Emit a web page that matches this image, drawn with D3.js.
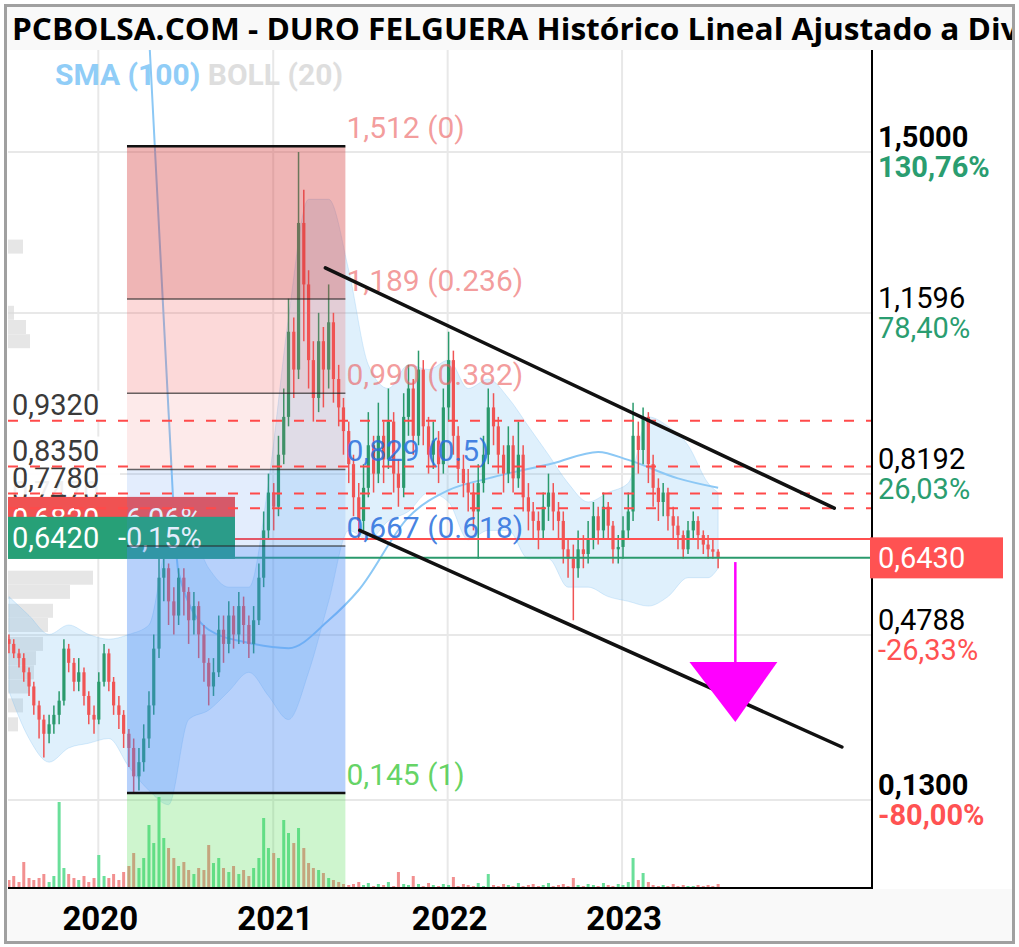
<!DOCTYPE html>
<html><head><meta charset="utf-8">
<script src="https://cdn.jsdelivr.net/npm/d3@7"></script>
<style>
html,body{margin:0;padding:0;background:#fff;}
svg{display:block;}
</style></head><body>
<svg id="c" width="1019" height="947"></svg>
<script>
// ---------- DATA ----------
const closes = [
0.46,0.44,0.43,0.40,0.37,0.33,0.30,0.27,0.29,0.31,
0.34,0.45,0.42,0.38,0.40,0.35,0.31,0.30,0.38,0.44,
0.38,0.33,0.31,0.27,0.24,0.18,0.21,0.26,0.33,0.45,
0.60,0.62,0.55,0.52,0.60,0.57,0.51,0.54,0.48,0.42,
0.37,0.40,0.49,0.46,0.52,0.48,0.54,0.50,0.46,0.51,
0.60,0.70,0.78,0.75,0.86,0.94,1.12,1.04,1.35,1.22,
1.06,0.98,1.10,1.04,1.14,1.02,0.96,0.91,0.84,0.77,
0.72,0.79,0.88,0.82,0.90,0.85,0.93,0.82,0.79,0.94,
1.00,0.90,1.04,0.92,0.86,0.89,0.84,0.96,1.06,0.90,
0.83,0.80,0.78,0.74,0.80,0.86,0.96,0.92,0.86,0.82,
0.88,0.81,0.86,0.77,0.74,0.72,0.70,0.75,0.78,0.74,
0.72,0.66,0.64,0.62,0.66,0.65,0.68,0.73,0.70,0.75,
0.71,0.66,0.665,0.70,0.74,0.90,0.87,0.94,0.84,0.79,
0.76,0.78,0.73,0.71,0.69,0.66,0.70,0.72,0.69,0.67,
0.66,0.655,0.643];
const opens = [
0.47,0.46,0.44,0.43,0.40,0.37,0.33,0.30,0.27,0.29,
0.31,0.34,0.45,0.42,0.38,0.40,0.35,0.31,0.30,0.38,
0.44,0.38,0.33,0.31,0.27,0.24,0.18,0.21,0.26,0.33,
0.45,0.60,0.62,0.55,0.52,0.60,0.57,0.51,0.54,0.48,
0.42,0.37,0.40,0.49,0.46,0.52,0.48,0.54,0.50,0.46,
0.51,0.60,0.70,0.78,0.75,0.86,0.94,1.12,1.04,1.35,
1.22,1.06,0.98,1.10,1.04,1.14,1.02,0.96,0.91,0.84,
0.77,0.72,0.79,0.88,0.82,0.90,0.85,0.93,0.82,0.79,
0.94,1.00,0.90,1.04,0.92,0.86,0.89,0.84,0.96,1.06,
0.90,0.83,0.80,0.78,0.74,0.80,0.86,0.96,0.92,0.86,
0.82,0.88,0.81,0.86,0.77,0.74,0.72,0.70,0.75,0.78,
0.74,0.72,0.66,0.64,0.62,0.66,0.65,0.68,0.73,0.70,
0.75,0.71,0.66,0.665,0.70,0.74,0.90,0.87,0.94,0.84,
0.79,0.76,0.78,0.73,0.71,0.69,0.66,0.70,0.72,0.69,
0.67,0.66,0.655];
const highs = [
0.48,0.47,0.45,0.44,0.41,0.38,0.34,0.31,0.31,0.33,
0.36,0.47,0.46,0.43,0.43,0.41,0.36,0.33,0.40,0.46,
0.45,0.39,0.35,0.32,0.28,0.26,0.24,0.29,0.36,0.48,
0.64,0.64,0.63,0.58,0.62,0.62,0.58,0.57,0.55,0.50,
0.43,0.43,0.52,0.52,0.55,0.54,0.57,0.56,0.52,0.54,
0.63,0.74,0.82,0.80,0.90,1.00,1.19,1.15,1.50,1.42,
1.25,1.10,1.16,1.13,1.22,1.16,1.05,0.98,0.93,0.86,
0.80,0.84,0.95,0.90,0.97,0.93,1.00,0.95,0.85,0.99,
1.05,1.02,1.08,1.06,0.94,0.93,0.91,1.00,1.12,1.08,
0.92,0.86,0.83,0.80,0.84,0.90,1.00,0.99,0.94,0.88,
0.92,0.90,0.93,0.88,0.80,0.76,0.74,0.78,0.82,0.80,
0.76,0.74,0.68,0.67,0.70,0.69,0.72,0.76,0.75,0.78,
0.76,0.72,0.69,0.73,0.78,0.97,0.93,0.96,0.95,0.86,
0.81,0.80,0.79,0.75,0.73,0.70,0.72,0.74,0.73,0.70,
0.69,0.68,0.66];
const lows = [
0.44,0.43,0.41,0.38,0.35,0.31,0.26,0.22,0.25,0.27,
0.29,0.33,0.40,0.36,0.36,0.33,0.29,0.27,0.29,0.37,
0.36,0.31,0.28,0.24,0.20,0.145,0.15,0.19,0.24,0.31,
0.43,0.55,0.50,0.48,0.50,0.52,0.46,0.48,0.43,0.38,
0.33,0.35,0.39,0.42,0.44,0.45,0.46,0.46,0.43,0.44,
0.50,0.58,0.68,0.70,0.73,0.84,0.92,0.98,1.02,1.10,
1.00,0.93,0.95,0.96,1.00,0.97,0.92,0.86,0.80,0.73,
0.68,0.70,0.77,0.78,0.80,0.80,0.83,0.78,0.75,0.77,
0.90,0.86,0.88,0.88,0.82,0.83,0.80,0.82,0.93,0.86,
0.80,0.77,0.74,0.70,0.64,0.78,0.84,0.88,0.82,0.78,
0.80,0.78,0.79,0.74,0.70,0.68,0.66,0.68,0.72,0.70,
0.68,0.63,0.60,0.51,0.60,0.62,0.63,0.66,0.67,0.68,
0.68,0.63,0.63,0.64,0.68,0.72,0.82,0.84,0.80,0.75,
0.72,0.73,0.70,0.68,0.66,0.64,0.65,0.68,0.66,0.65,
0.64,0.64,0.62];
const volumes = [
8,12,6,26,10,8,10,14,6,12,
86,20,14,10,8,12,6,10,33,12,
10,14,8,16,22,35,20,30,63,45,
91,50,40,30,22,26,18,14,20,18,
43,25,30,20,16,22,14,18,12,20,
30,70,40,35,30,68,55,45,60,40,
25,20,18,15,10,8,6,4,3,4,
6,3,5,2,4,3,6,2,16,4,
3,12,4,2,5,3,2,4,3,11,
2,4,3,2,5,2,14,3,2,4,
3,2,5,2,3,4,2,3,5,2,
3,4,2,10,3,2,4,3,2,5,
3,2,4,3,6,30,8,15,6,3,
2,3,2,4,2,3,2,2,3,2,
3,2,4];
const bollIdx   = [0,4,8,12,16,20,24,28,32,36,40,44,48,52,56,60,64,68,72,76,80,84,88,92,96,100,104,108,112,116,120,124,128,132,136,140,142];
const bollUpper = [0.56,0.52,0.48,0.50,0.48,0.47,0.48,0.50,0.68,0.70,0.62,0.58,0.58,0.80,1.15,1.40,1.40,1.25,1.05,1.00,1.05,1.04,1.06,1.00,1.02,0.98,0.92,0.86,0.80,0.76,0.78,0.80,0.94,0.92,0.88,0.80,0.78];
const bollLower = [0.36,0.26,0.21,0.24,0.25,0.26,0.20,0.15,0.12,0.30,0.32,0.36,0.40,0.35,0.30,0.40,0.55,0.70,0.68,0.72,0.74,0.78,0.76,0.68,0.70,0.70,0.64,0.64,0.58,0.58,0.56,0.55,0.54,0.56,0.60,0.60,0.62];
const smaIdx    = [28,32,34,40,48,56,64,70,80,88,96,109,118,124,134,142];
const smaValues = [1.75,0.95,0.61,0.49,0.462,0.451,0.51,0.574,0.728,0.785,0.81,0.842,0.866,0.849,0.81,0.79];
const profilePrices  = [1.30,1.16,1.13,1.10,0.60,0.57,0.53,0.50,0.46,0.43,0.40,0.37,0.33,0.29];
const profileVolumes = [15,6,18,22,85,62,45,40,35,28,26,22,15,10];

const axisTicks      = [1.5,1.1596,0.8192,0.4788,0.13];
const axisTickLabels = ["1,5000","1,1596","0,8192","0,4788","0,1300"];
const axisPctLabels  = ["130,76%","78,40%","26,03%","-26,33%","-80,00%"];
const axisBold       = [true,false,false,false,true];
const yearTicks      = [2020,2021,2022,2023];

const fibLevels = [1.512,1.189,0.990,0.829,0.667,0.145];
const fibLabels = ["1,512 (0)","1,189 (0.236)","0,990 (0.382)","0,829 (0.5)","0,667 (0.618)","0,145 (1)"];
const fibStart = new Date(2020,2,1), fibEnd = new Date(2021,5,1);

const dashedLevels = [0.747,0.778,0.835,0.932];
const dashedLabels = ["0,7470","0,7780","0,8350","0,9320"];

const redLevel = 0.682, redLabel = "0,6820", redPct = "-6,06%";
const greenLevel = 0.642, greenLabel = "0,6420", greenPct = "-0,15%";
const lastPrice = 0.643, lastLabel = "0,6430";

const upperTrend = [[new Date(2021,3,20),1.255],[new Date(2024,2,20),0.747]];
const lowerTrend = [[new Date(2021,6,1),0.70],[new Date(2024,3,5),0.242]];
const arrowDate = new Date(2023,7,26), arrowFrom = 0.633, arrowHeadTop = 0.422, arrowTip = 0.295;
const arrowLeft = new Date(2023,4,22), arrowRight = new Date(2023,10,22);

// ---------- STYLE ----------
const L=8,R=872,T=50,B=888;
const RED="#f05454", GREEN="#2a9a6c";
const fibFills = ["rgba(214,60,60,0.38)","rgba(242,80,80,0.22)","rgba(242,80,80,0.12)","rgba(66,133,244,0.15)","rgba(66,133,244,0.38)","rgba(80,220,80,0.28)"];
const fibTextColors = ["rgba(235,90,90,0.6)","rgba(235,90,90,0.6)","rgba(235,90,90,0.6)","rgba(40,110,220,0.85)","rgba(40,110,220,0.85)","rgba(60,200,60,0.8)"];

const svg=d3.select('#c');
const x=d3.scaleTime().domain([new Date(2019,5,26), new Date(2024,5,7)]).range([L,R]);
const y=d3.scaleLinear().domain([0.13,1.5]).range([800,152]);
const yv=d3.scaleLinear().domain([0,100]).range([B,B-100]);
const wp=d3.scaleLinear().domain([0,100]).range([0,100]);
const dates = closes.map((_,i)=>new Date(2019,5,28+Math.round(i*10.45)));

const defs=svg.append('defs');
defs.append('clipPath').attr('id','plot').append('rect').attr('x',L).attr('y',T).attr('width',R-L).attr('height',B-T);
defs.append('clipPath').attr('id','full').append('rect').attr('x',5).attr('y',5).attr('width',1008).attr('height',937);

// backgrounds
svg.append('rect').attr('x',0).attr('y',0).attr('width',1019).attr('height',947).attr('fill','#fff');
svg.append('rect').attr('x',5).attr('y',5).attr('width',1008).attr('height',45).attr('fill','#f9f9f9');
svg.append('rect').attr('x',5).attr('y',B+1).attr('width',1008).attr('height',942-B).attr('fill','#f9f9f9');

const g=svg.append('g').attr('clip-path','url(#plot)');

// gridlines
g.selectAll('.hg').data(axisTicks).enter().append('line')
 .attr('x1',L).attr('x2',R).attr('y1',d=>y(d)).attr('y2',d=>y(d)).attr('stroke','#e8e8e8').attr('stroke-width',2);
g.selectAll('.vg').data(yearTicks).enter().append('line')
 .attr('x1',d=>x(new Date(d,0,1))).attr('x2',d=>x(new Date(d,0,1))).attr('y1',T).attr('y2',B).attr('stroke','#e8e8e8').attr('stroke-width',2);

// volume profile
g.selectAll('.vp').data(profilePrices).enter().append('rect')
 .attr('x',L).attr('y',d=>y(d)-7).attr('height',14).attr('width',(d,i)=>wp(profileVolumes[i]))
 .attr('fill','#dcdcdc').attr('opacity',0.7);

// bollinger
const bollArea=d3.area().curve(d3.curveMonotoneX)
 .x((d,i)=>x(dates[d])).y0((d,i)=>y(bollLower[i])).y1((d,i)=>y(bollUpper[i]));
g.append('path').datum(bollIdx).attr('d',bollArea).attr('fill','rgba(110,185,240,0.22)').attr('stroke','rgba(110,185,240,0.25)').attr('stroke-width',1);

// SMA
const smaLine=d3.line().curve(d3.curveMonotoneX).x(d=>x(dates[d])).y((d,i)=>y(smaValues[i]));
g.append('path').datum(smaIdx).attr('d',smaLine).attr('fill','none').attr('stroke','#8cc8f5').attr('stroke-width',2);

// volume bars
g.selectAll('.vb').data(volumes).enter().append('rect')
 .attr('x',(d,i)=>x(dates[i])-1.5).attr('width',3).attr('y',d=>yv(d)).attr('height',d=>B-yv(d))
 .attr('fill',(d,i)=>closes[i]>=opens[i]?'#6adf9a':'#f29090');

// candles
const cg=g.append('g');
closes.forEach((c,i)=>{
  const o=opens[i], up=c>=o, col=up?GREEN:RED, cx=x(dates[i]);
  cg.append('line').attr('x1',cx).attr('x2',cx).attr('y1',y(highs[i])).attr('y2',y(lows[i])).attr('stroke',col).attr('stroke-width',1.5);
  const top=y(Math.max(o,c)), bot=y(Math.min(o,c));
  cg.append('rect').attr('x',cx-1.6).attr('width',3.2).attr('y',top).attr('height',Math.max(1.5,bot-top)).attr('fill',col);
});

// solid horizontal lines
g.append('line').attr('x1',L).attr('x2',R).attr('y1',y(redLevel)).attr('y2',y(redLevel)).attr('stroke','#ff4f4f').attr('stroke-width',2);
g.append('line').attr('x1',L).attr('x2',R).attr('y1',y(greenLevel)).attr('y2',y(greenLevel)).attr('stroke',GREEN).attr('stroke-width',2);

// left labels
const lab=svg.append('g').attr('font-family','Roboto, sans-serif').attr('font-size',29);
dashedLevels.forEach((v,i)=>{
  lab.append('rect').attr('x',L).attr('y',y(v)-30).attr('width',112).attr('height',31).attr('fill','rgba(255,255,255,0.92)');
  lab.append('text').attr('x',12).attr('y',y(v)-6).attr('fill','#3a3a3a').text(dashedLabels[i]);
});
lab.append('rect').attr('x',L).attr('y',y(redLevel)-42).attr('width',227).attr('height',42).attr('fill','#f05252');
lab.append('text').attr('x',12).attr('y',y(redLevel)-10).attr('fill','#fff').text(redLabel);
lab.append('text').attr('x',118).attr('y',y(redLevel)-10).attr('fill','#fff').text(redPct);
lab.append('rect').attr('x',L).attr('y',y(greenLevel)-41).attr('width',227).attr('height',42).attr('fill','#27a077');
lab.append('text').attr('x',12).attr('y',y(greenLevel)-10).attr('fill','#fff').text(greenLabel);
lab.append('text').attr('x',118).attr('y',y(greenLevel)-10).attr('fill','#fff').text(greenPct);

// fib overlay
const fg=svg.append('g').attr('clip-path','url(#plot)');
const fibBounds=fibLevels.concat([y.invert(B)]);
fibFills.forEach((c,i)=>{
  fg.append('rect').attr('x',x(fibStart)).attr('width',x(fibEnd)-x(fibStart))
   .attr('y',y(fibBounds[i])).attr('height',y(fibBounds[i+1])-y(fibBounds[i])).attr('fill',c);
});
fibLevels.forEach((v,i)=>{
  const edge=(i===0||i===fibLevels.length-1);
  fg.append('line').attr('x1',x(fibStart)).attr('x2',x(fibEnd)).attr('y1',y(v)).attr('y2',y(v))
    .attr('stroke',edge?'#111':'rgba(40,40,40,0.7)').attr('stroke-width',edge?2.5:1.5);
  fg.append('text').attr('x',x(fibEnd)+1).attr('y',y(v)-8).attr('font-family','Roboto, sans-serif').attr('font-size',30)
    .attr('fill',fibTextColors[i]).text(fibLabels[i]);
});

// dashed lines
const dg=svg.append('g').attr('clip-path','url(#plot)');
dashedLevels.forEach(v=>{
  dg.append('line').attr('x1',L).attr('x2',R).attr('y1',y(v)).attr('y2',y(v)).attr('stroke','#ff4a4a').attr('stroke-width',2).attr('stroke-dasharray','10,12');
});

// trend lines
[upperTrend,lowerTrend].forEach(t=>{
  dg.append('line').attr('x1',x(t[0][0])).attr('y1',y(t[0][1])).attr('x2',x(t[1][0])).attr('y2',y(t[1][1]))
    .attr('stroke','#111').attr('stroke-width',3.5).attr('stroke-linecap','round');
});

// magenta arrow
dg.append('line').attr('x1',x(arrowDate)).attr('x2',x(arrowDate)).attr('y1',y(arrowFrom)).attr('y2',y(arrowHeadTop)+2).attr('stroke','#ff00ff').attr('stroke-width',2.5);
dg.append('path').attr('d',`M${x(arrowLeft)},${y(arrowHeadTop)}L${x(arrowRight)},${y(arrowHeadTop)}L${x(arrowDate)},${y(arrowTip)}Z`).attr('fill','#ff00ff');

// axes
svg.append('line').attr('x1',R).attr('x2',R).attr('y1',T).attr('y2',B+1).attr('stroke','#000').attr('stroke-width',2);
svg.append('line').attr('x1',L).attr('x2',R+1).attr('y1',B).attr('y2',B).attr('stroke','#000').attr('stroke-width',2);

// right labels
const rl=svg.append('g').attr('font-family','Roboto, sans-serif').attr('font-size',29);
axisTicks.forEach((v,i)=>{
  rl.append('text').attr('x',878).attr('y',y(v)-5).attr('fill','#000').attr('font-weight',axisBold[i]?700:400).text(axisTickLabels[i]);
  rl.append('text').attr('x',878).attr('y',y(v)+25).attr('fill',axisPctLabels[i].startsWith('-')?'#ff5252':'#2a9d70')
    .attr('font-weight',axisBold[i]?700:400).text(axisPctLabels[i]);
});
rl.append('rect').attr('x',R-2).attr('y',y(lastPrice)-20).attr('width',133).attr('height',41).attr('fill','#ff5252');
rl.append('text').attr('x',878).attr('y',y(lastPrice)+11).attr('fill','#fff').text(lastLabel);

// x labels
svg.append('g').selectAll('text').data(yearTicks).enter().append('text')
 .attr('x',d=>x(new Date(d,0,1))+2).attr('y',930).attr('text-anchor','middle')
 .attr('font-family','Roboto, sans-serif').attr('font-weight',700).attr('font-size',33).attr('fill','#000').text(d=>d);

// legend
const lg=svg.append('text').attr('x',55).attr('y',85).attr('font-family','Roboto, sans-serif').attr('font-weight',700).attr('font-size',30);
lg.append('tspan').attr('fill','#90cdf7').text('SMA (100) ');
lg.append('tspan').attr('fill','#dedede').text('BOLL (20)');

// title
svg.append('g').attr('clip-path','url(#full)').append('text')
 .attr('transform','translate(12,40) scale(1.055,1)')
 .attr('font-family','"Open Sans", sans-serif').attr('font-weight',700).attr('font-size',30).attr('fill','#000')
 .text('PCBOLSA.COM - DURO FELGUERA Histórico Lineal Ajustado a Dividendos');

// frame
svg.append('rect').attr('x',5.5).attr('y',5.5).attr('width',1008).attr('height',937).attr('fill','none').attr('stroke','#a0a0a0').attr('stroke-width',3);
</script>
</body></html>
